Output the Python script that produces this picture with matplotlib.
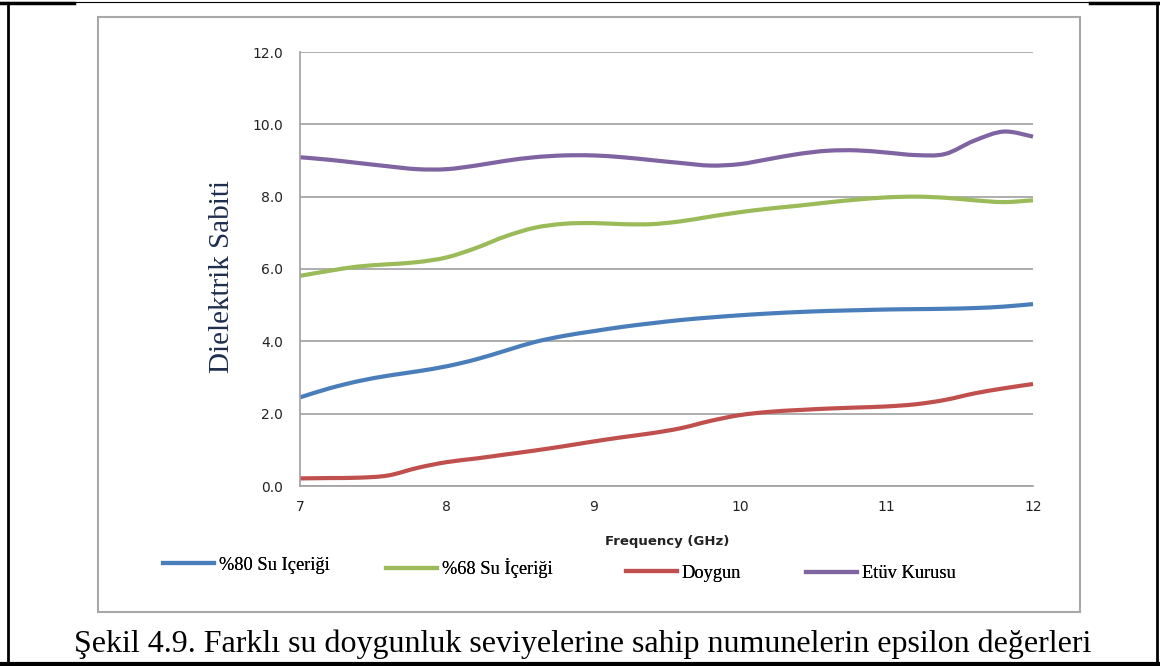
import numpy as np
import matplotlib.pyplot as plt
from matplotlib.lines import Line2D
from matplotlib.patches import Rectangle, PathPatch
from matplotlib.path import Path

# frequency (GHz) and read-off dielectric constants
freq = [7.0, 7.2, 7.4, 7.6, 7.8, 8.0, 8.2, 8.4, 8.6, 8.8, 9.0, 9.2, 9.4,
        9.6, 9.8, 10.0, 10.2, 10.4, 10.6, 10.8, 11.0, 11.2, 11.4, 11.6, 11.8, 12.0]
su80 = [2.45, 2.70, 2.90, 3.05, 3.17, 3.31, 3.50, 3.74, 3.98, 4.15, 4.28, 4.40, 4.50,
        4.59, 4.66, 4.72, 4.77, 4.81, 4.84, 4.86, 4.88, 4.89, 4.90, 4.92, 4.96, 5.03]
su68 = [5.81, 5.95, 6.07, 6.13, 6.19, 6.32, 6.58, 6.90, 7.14, 7.25, 7.27, 7.24, 7.24,
        7.32, 7.45, 7.57, 7.67, 7.75, 7.84, 7.92, 7.98, 8.00, 7.97, 7.90, 7.85, 7.90]
doygun = [0.21, 0.22, 0.23, 0.29, 0.50, 0.66, 0.76, 0.87, 0.98, 1.10, 1.23, 1.35, 1.46,
          1.60, 1.80, 1.96, 2.05, 2.10, 2.14, 2.17, 2.20, 2.26, 2.38, 2.56, 2.70, 2.82]
etuv = [9.09, 9.02, 8.93, 8.84, 8.76, 8.76, 8.86, 8.99, 9.09, 9.14, 9.14, 9.09, 9.01,
        8.93, 8.86, 8.90, 9.04, 9.18, 9.27, 9.28, 9.22, 9.15, 9.18, 9.55, 9.80, 9.66]

series = [
    ('%80 Su Içeriği', su80, '#4A7EBB'),
    ('%68 Su İçeriği', su68, '#9BBB59'),
    ('Doygun', doygun, '#C0504D'),
    ('Etüv Kurusu', etuv, '#8064A2'),
]
xticks = [7, 8, 9, 10, 11, 12]
yticks = [0, 2, 4, 6, 8, 10, 12]


def smooth_path(x, y):
    # Excel-style smoothed line: Catmull-Rom through the points as Bezier segments
    p = np.column_stack([x, y])
    verts = [p[0]]
    codes = [Path.MOVETO]
    n = len(p)
    for i in range(n - 1):
        p0 = p[i - 1] if i > 0 else p[i]
        p3 = p[i + 2] if i + 2 < n else p[i + 1]
        c1 = p[i] + (p[i + 1] - p0) / 6
        c2 = p[i + 1] - (p3 - p[i]) / 6
        verts += [c1, c2, p[i + 1]]
        codes += [Path.CURVE4] * 3
    return Path(verts, codes)


W, H = 1160, 666
fig = plt.figure(figsize=(W / 100, H / 100), dpi=100)
ax = fig.add_axes([300 / W, 1 - 486 / H, 733 / W, 434 / H])

handles = []
for name, vals, col in series:
    patch = PathPatch(smooth_path(freq, vals), fill=False, edgecolor=col, lw=3,
                      capstyle='butt', joinstyle='round', clip_on=False)
    ax.add_patch(patch)
    handles.append(Line2D([], [], color=col, lw=3, label=name))

ax.set_xlim(7, 12)
ax.set_ylim(0, 12)
ax.set_xticks(xticks)
ax.set_yticks(yticks)
ax.set_yticklabels([f'{v:.1f}' for v in yticks])
ax.tick_params(length=0, labelsize=10, colors='#222222', pad=12)
ax.tick_params(axis='x', pad=10)
for s in ['top', 'right']:
    ax.spines[s].set_visible(False)
for s in ['left', 'bottom']:
    ax.spines[s].set_color('#A0A0A0')
    ax.spines[s].set_linewidth(1.2)
ax.grid(axis='y', color='#A0A0A0', lw=1.2)
ax.set_axisbelow(True)

ax.set_ylabel('Dielektrik Sabiti', family='Liberation Serif', fontsize=21,
              color='#1F2D4F')
ax.yaxis.set_label_coords(-0.088, 0.482)
fig.text(667 / W, 1 - 542 / H, 'Frequency (GHz)', ha='center', va='center',
         fontsize=9.5, fontweight='bold', color='#222222')

# legend entries placed individually like the original
leg_pos = [(163, 565), (386, 568), (626, 573), (806, 574)]
for h, (lx, ly) in zip(handles, leg_pos):
    lg = fig.legend(handles=[h], loc='center left',
                    bbox_to_anchor=(lx / W, 1 - ly / H), frameon=False,
                    prop={'family': 'Liberation Serif', 'size': 13.2},
                    handlelength=2.8, handletextpad=0.25, borderpad=0,
                    borderaxespad=0)
    fig.add_artist(lg)

# gray chart frame
fig.add_artist(Rectangle((98 / W, 1 - 612 / H), 982 / W, 595 / H,
                         transform=fig.transFigure, fill=False,
                         edgecolor='#A8A8A8', lw=1.5))

# black outer frame of the document
fig.add_artist(Line2D([8 / W, 8 / W], [0, 1 - 3 / H], transform=fig.transFigure,
                      color='black', lw=2))
fig.add_artist(Line2D([1157 / W, 1157 / W], [0, 1 - 3 / H], transform=fig.transFigure,
                      color='black', lw=2))
fig.add_artist(Line2D([0, 1], [1 - 664 / H, 1 - 664 / H], transform=fig.transFigure,
                      color='black', lw=3))
fig.add_artist(Line2D([0, 1], [1 - 2 / H, 1 - 2 / H], transform=fig.transFigure,
                      color='black', lw=0.8))
fig.add_artist(Line2D([0, 74 / W], [1 - 3 / H, 1 - 3 / H], transform=fig.transFigure,
                      color='black', lw=2.5))
fig.add_artist(Line2D([1090 / W, 1], [1 - 3 / H, 1 - 3 / H], transform=fig.transFigure,
                      color='black', lw=2.5))

fig.text(583 / W, 1 - 644 / H,
         'Şekil 4.9. Farklı su doygunluk seviyelerine sahip numunelerin epsilon değerleri',
         ha='center', va='center', family='Liberation Serif', fontsize=23, color='black')

fig.savefig('out.png', dpi=100)
